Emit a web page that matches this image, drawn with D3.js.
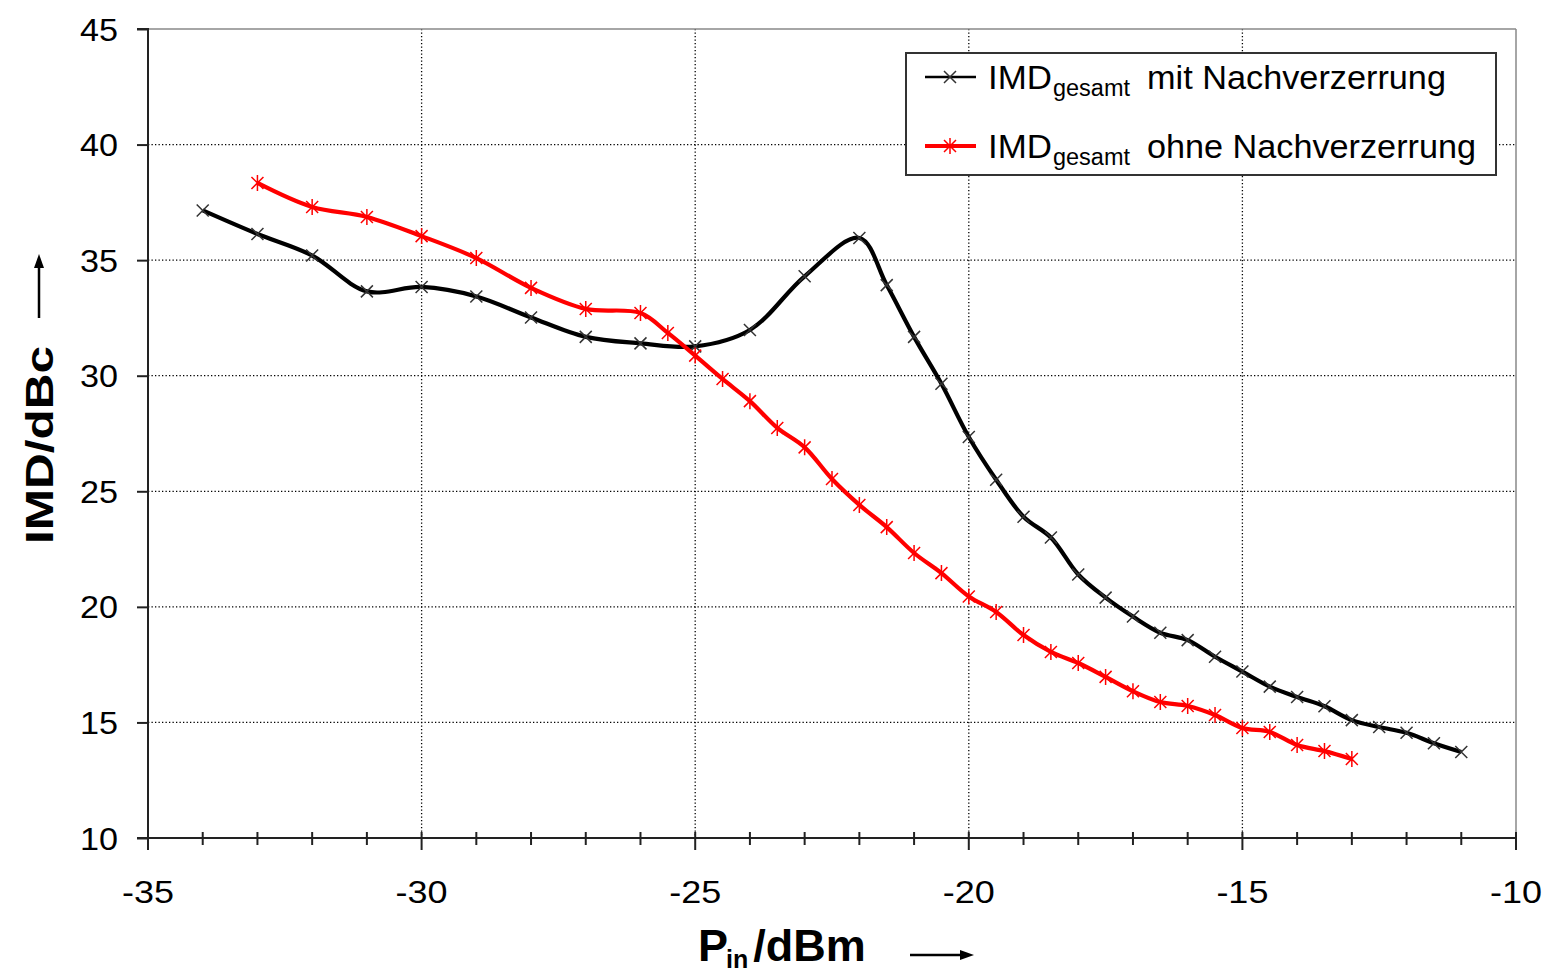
<!DOCTYPE html>
<html><head><meta charset="utf-8">
<script src="https://cdn.jsdelivr.net/npm/d3@7"></script>
<style>body{margin:0;background:#fff} text{font-family:"Liberation Sans",Arial,sans-serif;fill:#000}</style>
</head><body><svg id="c" width="1543" height="978"></svg>
<script>
// ---- data ----
const xMit = [-34,-33,-32,-31,-30,-29,-28,-27,-26,-25,-24,-23,-22,-21.5,-21,-20.5,-20,-19.5,-19,-18.5,-18,-17.5,-17,-16.5,-16,-15.5,-15,-14.5,-14,-13.5,-13,-12.5,-12,-11.5,-11];
const yMit = [37.15,36.13,35.2,33.65,33.84,33.43,32.52,31.68,31.4,31.27,31.98,34.3,35.96,33.92,31.68,29.65,27.35,25.5,23.9,23.0,21.4,20.4,19.58,18.88,18.56,17.84,17.2,16.55,16.1,15.7,15.1,14.8,14.55,14.1,13.72];
const xOhne = [-33,-32,-31,-30,-29,-28,-27,-26,-25.5,-25,-24.5,-24,-23.5,-23,-22.5,-22,-21.5,-21,-20.5,-20,-19.5,-19,-18.5,-18,-17.5,-17,-16.5,-16,-15.5,-15,-14.5,-14,-13.5,-13];
const yOhne = [38.34,37.3,36.87,36.04,35.09,33.8,32.89,32.71,31.85,30.87,29.86,28.9,27.74,26.9,25.53,24.41,23.45,22.33,21.46,20.45,19.78,18.78,18.05,17.57,16.97,16.35,15.88,15.71,15.32,14.76,14.59,14.02,13.76,13.42];
const xTicks = [-35,-30,-25,-20,-15,-10];
const yTicks = [10,15,20,25,30,35,40,45];
const seriesNames = ["mit Nachverzerrung","ohne Nachverzerrung"];

const svg = d3.select("#c");
const L=148,R=1516,T=29,B=838;
const x = d3.scaleLinear().domain([-35,-10]).range([L,R]);
const y = d3.scaleLinear().domain([10,45]).range([B,T]);

// grid
const g = svg.append("g");
g.selectAll("line.hg").data(yTicks.filter(v=>v>10&&v<45)).enter().append("line")
  .attr("x1",L).attr("x2",R).attr("y1",d=>y(d)).attr("y2",d=>y(d))
  .attr("stroke","#000").attr("stroke-width",1.3).attr("stroke-dasharray","1.3,2.2");
g.selectAll("line.vg").data(xTicks.filter(v=>v>-35&&v<-10)).enter().append("line")
  .attr("y1",T).attr("y2",B).attr("x1",d=>x(d)).attr("x2",d=>x(d))
  .attr("stroke","#000").attr("stroke-width",1.3).attr("stroke-dasharray","1.3,2.2");

// frame top/right gray
svg.append("line").attr("x1",L).attr("x2",R).attr("y1",T).attr("y2",T).attr("stroke","#888").attr("stroke-width",1.5);
svg.append("line").attr("x1",R).attr("x2",R).attr("y1",T).attr("y2",B).attr("stroke","#888").attr("stroke-width",1.5);

// y axis
const yAxis = d3.axisLeft(y).tickValues(yTicks).tickSize(11).tickFormat("");
const ya = svg.append("g").attr("transform",`translate(${L},0)`).call(yAxis);
ya.selectAll("path,line").attr("stroke","#222").attr("stroke-width",2);
ya.select(".domain").attr("d",`M-11,${T}H0V${B}H-11`);
svg.selectAll("text.yt").data(yTicks).enter().append("text")
  .attr("x",118).attr("y",d=>y(d)+11.5).attr("text-anchor","end")
  .attr("font-size",32).attr("textLength",38).attr("lengthAdjust","spacingAndGlyphs")
  .text(d=>d);

// x axis with minor ticks crossing
const minor = d3.range(-35,-9,1);
const xa = svg.append("g").attr("transform",`translate(0,${B})`);
xa.append("line").attr("x1",L).attr("x2",R).attr("stroke","#222").attr("stroke-width",2);
xa.selectAll("line.t").data(minor).enter().append("line")
  .attr("x1",d=>x(d)).attr("x2",d=>x(d))
  .attr("y1",-6).attr("y2",d=>d%5===0?12:7).attr("stroke","#222").attr("stroke-width",2);
svg.selectAll("text.xt").data(xTicks).enter().append("text")
  .attr("x",d=>x(d)).attr("y",903).attr("text-anchor","middle")
  .attr("font-size",32).attr("textLength",52).attr("lengthAdjust","spacingAndGlyphs")
  .text(d=>d);

// lines
const line = d3.line().x(d=>x(d[0])).y(d=>y(d[1])).curve(d3.curveCatmullRom.alpha(0.5));
const mit = xMit.map((v,i)=>[v,yMit[i]]);
const ohne = xOhne.map((v,i)=>[v,yOhne[i]]);
const crossX = "M-6,-6L6,6M-6,6L6,-6";
const star = "M-6,-6L6,6M-6,6L6,-6M0,-8L0,8";
function series(data,color,mk,mkColor,w){
  svg.append("path").attr("d",line(data)).attr("fill","none").attr("stroke",color).attr("stroke-width",w).attr("stroke-linejoin","round");
  svg.selectAll(null).data(data).enter().append("path")
    .attr("transform",d=>`translate(${x(d[0])},${y(d[1])})`).attr("d",mk)
    .attr("stroke",mkColor).attr("stroke-width",1.5).attr("fill","none");
}
series(mit,"#000",crossX,"#333",4.2);
series(ohne,"#ff0000",star,"#ff0000",4.2);

// legend
const lg = svg.append("g");
lg.append("rect").attr("x",906).attr("y",53).attr("width",590).attr("height",122).attr("fill","#fff").attr("stroke","#333").attr("stroke-width",2);
const legRows = [{y:77,c:"#000",m:crossX,mc:"#333",t:seriesNames[0],w:299},{y:146,c:"#ff0000",m:star,mc:"#ff0000",t:seriesNames[1],w:329}];
legRows.forEach(r=>{
  lg.append("line").attr("x1",925).attr("x2",976).attr("y1",r.y).attr("y2",r.y).attr("stroke",r.c).attr("stroke-width",r.c==="#000"?2.5:4);
  lg.append("path").attr("transform",`translate(950,${r.y})`).attr("d",r.m).attr("stroke",r.mc).attr("stroke-width",1.5).attr("fill","none");
  lg.append("text").attr("x",988).attr("y",r.y+12).attr("font-size",33).attr("textLength",64).attr("lengthAdjust","spacingAndGlyphs").text("IMD");
  lg.append("text").attr("x",1053).attr("y",r.y+19).attr("font-size",23).attr("textLength",77).attr("lengthAdjust","spacingAndGlyphs").text("gesamt");
  lg.append("text").attr("x",1147).attr("y",r.y+12).attr("font-size",33).attr("textLength",r.w).attr("lengthAdjust","spacingAndGlyphs").text(r.t);
});

// axis titles
svg.append("text").attr("transform","translate(53,445) rotate(-90)").attr("text-anchor","middle")
  .attr("font-size",38).attr("font-weight","bold").attr("textLength",198).attr("lengthAdjust","spacingAndGlyphs").text("IMD/dBc");
// y arrow
svg.append("line").attr("x1",39).attr("x2",39).attr("y1",318).attr("y2",262).attr("stroke","#000").attr("stroke-width",2.5);
svg.append("path").attr("d","M39,254L34,268L44,268Z").attr("fill","#000");

const xl = svg.append("text").attr("x",698).attr("y",961).attr("font-size",45).attr("font-weight","bold");
xl.append("tspan").text("P");
xl.append("tspan").attr("font-size",25).attr("dy",7).attr("dx",-2).text("in");
xl.append("tspan").attr("dy",-7).attr("dx",5).text("/dBm");
// x arrow
svg.append("line").attr("x1",910).attr("x2",966).attr("y1",955).attr("y2",955).attr("stroke","#000").attr("stroke-width",2.5);
svg.append("path").attr("d","M974,955L960,950L960,960Z").attr("fill","#000");
</script></body></html>
